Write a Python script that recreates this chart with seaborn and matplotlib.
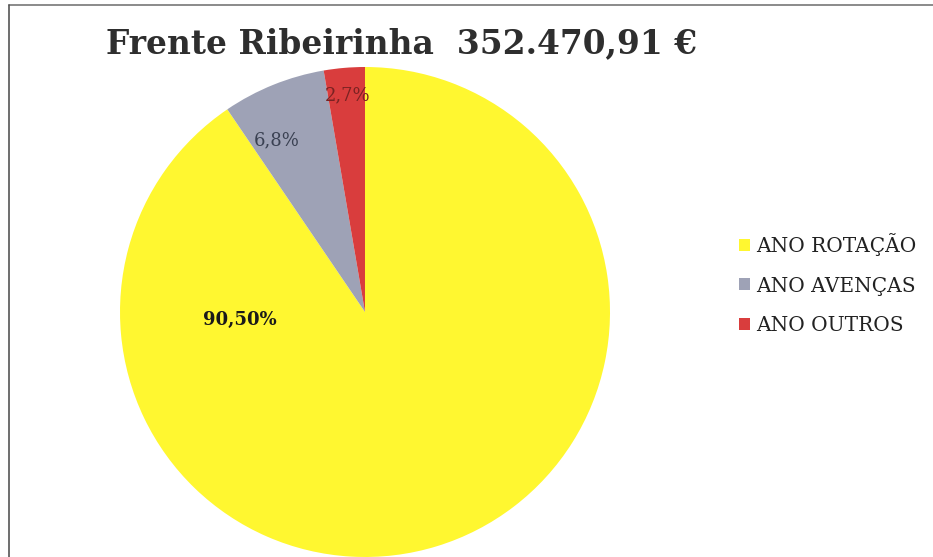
import matplotlib
matplotlib.use("Agg")
import matplotlib.pyplot as plt
import seaborn as sns
from matplotlib.lines import Line2D
from matplotlib.patches import Patch

title = "Frente Ribeirinha  352.470,91 €"
categories = ["ANO ROTAÇÃO", "ANO AVENÇAS", "ANO OUTROS"]
values = [90.5, 6.8, 2.7]
pct_labels = ["90,50%", "6,8%", "2,7%"]
colors = ["#FFF730", "#9EA2B6", "#D93D3D"]
label_colors = ["#1a1a1a", "#3a4152", "#7a2222"]

sns.set_theme(style="white")
plt.rcParams["font.family"] = ["DejaVu Serif"]

W, H = 933, 557
fig = plt.figure(figsize=(W / 100, H / 100), dpi=100)
fig.patch.set_facecolor("white")

cx, cy, r = 365, 312, 245
ax = fig.add_axes([(cx - r) / W, (H - cy - r) / H, 2 * r / W, 2 * r / H])
pal = sns.color_palette(colors)
wedges, _ = ax.pie(values, colors=pal, startangle=90, counterclock=False,
                   radius=1.0, wedgeprops=dict(linewidth=0))
ax.set_xlim(-1, 1)
ax.set_ylim(-1, 1)
ax.set_aspect("equal")
ax.axis("off")

label_pos = [(-0.51, -0.033), (-0.36, 0.70), (-0.07, 0.886)]
weights = ["bold", "normal", "normal"]
for (x, y), t, c, w in zip(label_pos, pct_labels, label_colors, weights):
    ax.text(x, y, t, ha="center", va="center", fontsize=13, color=c,
            fontweight=w, family="DejaVu Serif")

fig.text(402 / W, 1 - 44 / H, title, ha="center", va="center",
         fontsize=23.7, fontweight="bold", color="#2e2e2e", family="DejaVu Serif")

handles = [Patch(facecolor=c, edgecolor="none") for c in pal]
leg = fig.legend(handles, categories, loc="center left",
                 bbox_to_anchor=(721 / W, 1 - 284 / H), frameon=False,
                 fontsize=14.5, handlelength=0.55, handleheight=0.55,
                 handletextpad=0.3, labelspacing=1.03)
for t in leg.get_texts():
    t.set_color("#222222")
    t.set_family("DejaVu Serif")

# border lines (top and left)
fig.add_artist(Line2D([9 / W, 1], [1 - 5 / H, 1 - 5 / H], transform=fig.transFigure,
                      color="#777777", linewidth=1.2))
fig.add_artist(Line2D([9 / W, 9 / W], [0, 1 - 5 / H], transform=fig.transFigure,
                      color="#555555", linewidth=1.2))

fig.savefig("out.png", dpi=100, facecolor="white")
